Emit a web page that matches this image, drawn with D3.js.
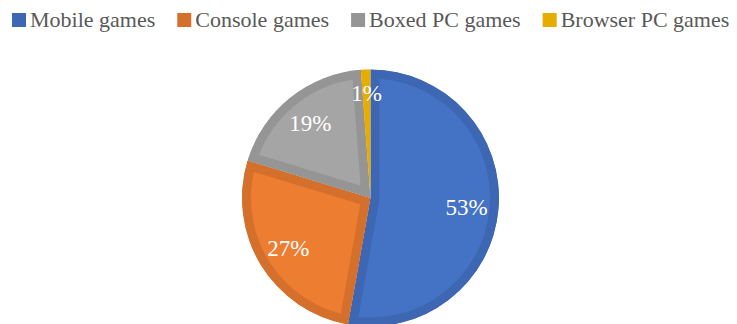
<!DOCTYPE html>
<html>
<head>
<meta charset="utf-8">
<script src="https://cdn.jsdelivr.net/npm/d3@7"></script>
<style>
  html, body { margin: 0; padding: 0; background: #fff; }
  svg { display: block; }
</style>
</head>
<body>
<svg id="chart"></svg>
<script>
// data
var categories = ["Mobile games", "Console games", "Boxed PC games", "Browser PC games"];
var shares = [52.8, 26.9, 19.1, 1.2];
var pctLabels = ["53%", "27%", "19%", "1%"];
var fillColors = ["#4472C4", "#ED7D31", "#A5A5A5", "#FFC000"];
var edgeColors = ["#3D67B2", "#D4702C", "#959595", "#E6AC00"];

var width = 737, height = 324;
var cx = 370.5, cy = 198, radius = 128.5;
var borderW = 9;
var serif = "'Liberation Serif'";

var svg = d3.select("#chart").attr("width", width).attr("height", height);

// legend, laid out left to right
var legend = svg.append("g").attr("transform", "translate(12,0)");
var lx = 0;
categories.forEach(function(name, i) {
    var item = legend.append("g").attr("transform", "translate(" + lx + ",0)");
    item.append("rect")
        .attr("x", 0).attr("y", 13).attr("width", 14).attr("height", 14)
        .attr("fill", edgeColors[i]);
    var t = item.append("text")
        .attr("x", 18).attr("y", 27)
        .style("font-family", serif)
        .style("font-size", "22px")
        .attr("fill", "#595959")
        .text(name);
    lx += 18 + t.node().getComputedTextLength() + 22;
});

// pie
var pie = d3.pie().sort(null).value(function(d) { return d; });
var arcs = pie(shares);
var arc = d3.arc().innerRadius(0).outerRadius(radius);
// tiny slices get their label pushed a bit further out, like Excel's best fit
var labelRadius = function(d) {
    return (d.endAngle - d.startAngle) < 0.2 ? radius * 0.82 : radius * 0.75;
};

var defs = svg.append("defs");
var g = svg.append("g").attr("transform", "translate(" + cx + "," + cy + ")");

arcs.forEach(function(a, i) {
    defs.append("clipPath").attr("id", "clip" + i)
        .append("path").attr("d", arc(a));
    // fill plus an inner border clipped to the slice
    g.append("path")
        .attr("d", arc(a))
        .attr("fill", fillColors[i])
        .attr("stroke", edgeColors[i])
        .attr("stroke-width", borderW * 2)
        .attr("clip-path", "url(#clip" + i + ")");
});

g.selectAll("text.lbl")
    .data(arcs)
    .enter().append("text")
    .attr("class", "lbl")
    .attr("transform", function(d) {
        var r = labelRadius(d);
        return "translate(" + d3.arc().innerRadius(r).outerRadius(r).centroid(d) + ")";
    })
    .attr("text-anchor", "middle")
    .attr("dy", "0.35em")
    .style("font-family", serif)
    .style("font-size", "23px")
    .attr("fill", "#fff")
    .text(function(d, i) { return pctLabels[i]; });
</script>
</body>
</html>
